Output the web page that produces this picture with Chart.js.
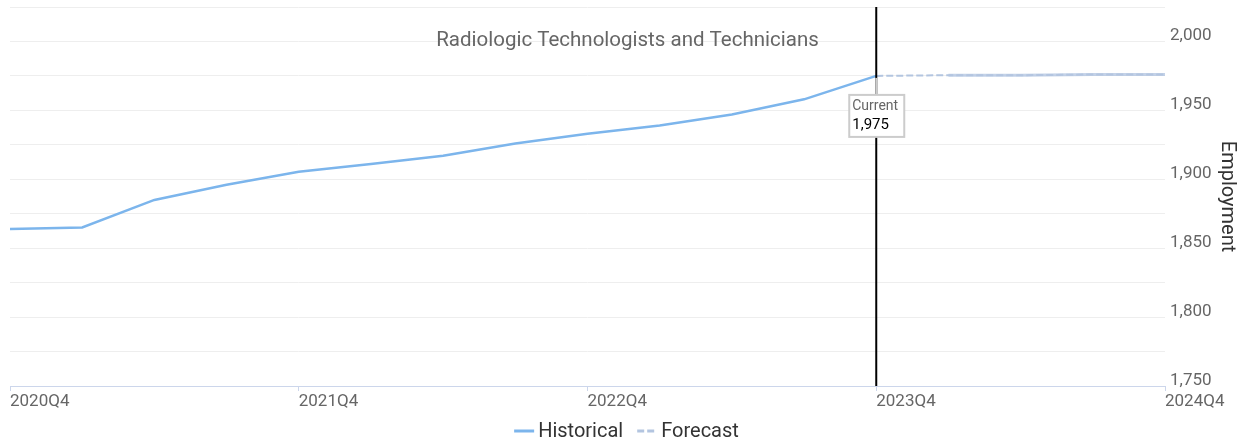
<!DOCTYPE html>
<html>
<head>
<meta charset="utf-8">
<script src="https://cdn.jsdelivr.net/npm/chart.js@4/dist/chart.umd.min.js"></script>
<style>
    body { margin: 0; background: #fff; }
    #caixa { width: 1253px; height: 440px; }
</style>
</head>
<body>
<div id="caixa"><canvas id="graficoEmprego"></canvas></div>
<script>
// Dados
const trimestres = ['2020Q4', '2021Q1', '2021Q2', '2021Q3', '2021Q4', '2022Q1', '2022Q2', '2022Q3', '2022Q4',
    '2023Q1', '2023Q2', '2023Q3', '2023Q4', '2024Q1', '2024Q2', '2024Q3', '2024Q4'];
const historico = [1864, 1865, 1885, 1896, 1905.5, 1911, 1917, 1926, 1933, 1939, 1947, 1958, 1975,
    null, null, null, null];
const previsao = [null, null, null, null, null, null, null, null, null, null, null, null, 1975,
    1975.5, 1975.5, 1976, 1976];
const faixaPrevisao = [null, null, null, null, null, null, null, null, null, null, null, null, null,
    1975.5, 1975.5, 1976, 1976];
const indiceAtual = 12;
const rotuloAtual = 'Current';
const tituloGrafico = 'Radiologic Technologists and Technicians';

const corHistorico = '#7cb5ec';
const corPrevisao = '#b3c5e0';

Chart.defaults.font.family = 'Roboto';

// Título por cima da área do gráfico
const pluginTitulo = {
    id: 'pluginTitulo',
    beforeDatasetsDraw(chart) {
        const c = chart.ctx;
        c.save();
        c.font = '20.5px Roboto';
        c.fillStyle = '#666666';
        c.textAlign = 'center';
        c.textBaseline = 'middle';
        c.fillText(tituloGrafico, chart.width / 2 + 1, 41);
        c.restore();
    }
};

// Linha vertical do trimestre atual + caixinha com o valor
const pluginAtual = {
    id: 'pluginAtual',
    afterDatasetsDraw(chart) {
        const c = chart.ctx;
        const area = chart.chartArea;
        const x = chart.scales.x.getPixelForValue(indiceAtual);
        const y = chart.scales.y.getPixelForValue(historico[indiceAtual]);
        c.save();
        c.strokeStyle = '#000';
        c.lineWidth = 2;
        c.beginPath();
        c.moveTo(x, area.top);
        c.lineTo(x, area.bottom);
        c.stroke();

        const caixaX = x - 27, caixaY = y + 19, larg = 55, alt = 42;
        c.strokeStyle = '#cccccc';
        c.beginPath();
        c.moveTo(x, y + 2);
        c.lineTo(x, caixaY);
        c.stroke();
        c.fillStyle = '#fff';
        c.fillRect(caixaX, caixaY, larg, alt);
        c.strokeRect(caixaX, caixaY, larg, alt);

        c.textAlign = 'left';
        c.textBaseline = 'middle';
        c.font = '14px Roboto';
        c.fillStyle = '#666666';
        c.fillText(rotuloAtual, caixaX + 3, caixaY + 12);
        c.fillStyle = '#000';
        c.font = '15px Roboto';
        c.fillText(historico[indiceAtual].toLocaleString('en-US'), caixaX + 3, caixaY + 30);
        c.restore();
    }
};

// Legenda desenhada embaixo
const pluginLegenda = {
    id: 'pluginLegenda',
    afterDraw(chart) {
        const c = chart.ctx;
        const itens = chart.data.datasets.filter(d => !d.semLegenda);
        c.save();
        c.font = '20px Roboto';
        const larguras = itens.map(d => 20 + 4 + c.measureText(d.label).width);
        const total = larguras.reduce((a, b) => a + b, 0) + 14 * (itens.length - 1);
        let x = chart.width / 2 - total / 2;
        const y = 431;
        itens.forEach((d, i) => {
            c.strokeStyle = d.borderColor;
            c.lineWidth = 3;
            c.setLineDash(d.borderDash || []);
            c.beginPath();
            c.moveTo(x, y);
            c.lineTo(x + 20, y);
            c.stroke();
            c.setLineDash([]);
            c.fillStyle = '#333333';
            c.textBaseline = 'alphabetic';
            c.fillText(d.label, x + 24, y + 6);
            x += larguras[i] + 14;
        });
        c.restore();
    }
};

const ctx = document.getElementById('graficoEmprego');
new Chart(ctx.getContext('2d'), {
    type: 'line',
    data: {
        labels: trimestres,
        datasets: [
            {
                label: 'Historical',
                data: historico,
                borderColor: corHistorico,
                borderWidth: 2.5,
                pointRadius: 0,
                tension: 0
            },
            {
                label: 'Forecast',
                data: previsao,
                borderColor: corPrevisao,
                borderWidth: 2,
                borderDash: [7, 3],
                pointRadius: 0,
                tension: 0
            },
            {
                label: 'Forecast band',
                semLegenda: true,
                data: faixaPrevisao,
                borderColor: 'rgba(180, 199, 226, 0.8)',
                borderWidth: 3,
                pointRadius: 0,
                tension: 0
            }
        ]
    },
    options: {
        responsive: true,
        maintainAspectRatio: false,
        animation: false,
        layout: { padding: { left: 10, top: 7, right: 0, bottom: 20 } },
        plugins: {
            legend: { display: false },
            tooltip: { enabled: false }
        },
        scales: {
            x: {
                grid: {
                    drawOnChartArea: false,
                    drawTicks: true,
                    tickLength: 5,
                    color: c => (trimestres[c.index] || '').endsWith('Q4') ? '#ccd6eb' : 'rgba(0,0,0,0)'
                },
                border: { color: '#ccd6eb', width: 1 },
                ticks: {
                    autoSkip: false,
                    maxRotation: 0,
                    align: 'start',
                    padding: 1,
                    color: '#666666',
                    font: { size: 17 },
                    callback: (v, i) => trimestres[i].endsWith('Q4') ? trimestres[i] : ''
                },
                afterFit: s => { s.height = 34; }
            },
            y: {
                position: 'right',
                min: 1750,
                max: 2025,
                grid: { color: '#eeeeee', drawTicks: false },
                border: { display: false },
                ticks: {
                    stepSize: 25,
                    padding: 5,
                    labelOffset: -5.5,
                    color: '#666666',
                    font: { size: 17 },
                    callback: v => v % 50 === 0 ? v.toLocaleString('en-US') : ''
                },
                title: {
                    display: true,
                    text: 'Employment',
                    color: '#333333',
                    font: { size: 20 },
                    padding: { top: 14, bottom: 0 }
                },
                afterFit: s => {
                    s.width = 88;
                    s.paddingTop = 0;
                    s.paddingBottom = 0;
                }
            }
        }
    },
    plugins: [pluginTitulo, pluginAtual, pluginLegenda]
});
</script>
</body>
</html>
